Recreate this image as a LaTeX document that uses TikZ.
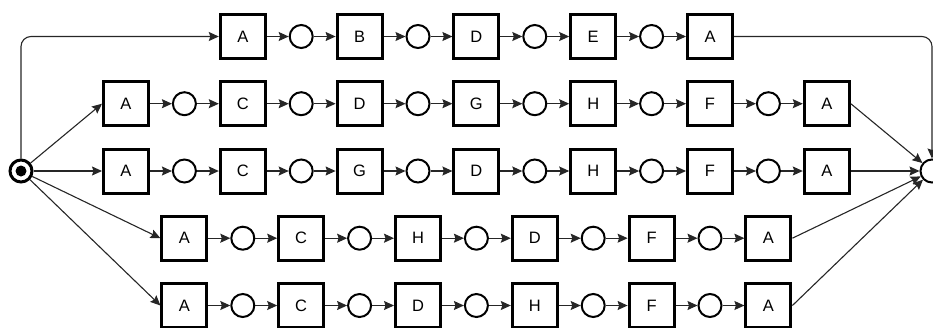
\documentclass[tikz,border=0pt]{standalone}
\usepackage{fontspec}
\setmainfont{Liberation Sans}
\usetikzlibrary{arrows.meta}
\begin{document}
\begin{tikzpicture}[x=1pt,y=-1pt,
  task/.style={draw=black,line width=3pt,minimum width=45pt,minimum height=44pt,inner sep=0pt,font=\fontsize{16.5}{16.5}\selectfont},
  place/.style={circle,draw=black,line width=2pt,minimum size=23pt,inner sep=0pt},
  startplace/.style={circle,draw=black,line width=3pt,minimum size=22pt,inner sep=0pt},
  conn/.style={draw=black!85,line width=1.1pt,-{Stealth[length=10pt,width=9pt,inset=1.5pt]}},
]
\useasboundingbox (0,0) rectangle (933,327);
\node[startplace] (s) at (21,171) {};
\fill[black] (s.center) circle (5.5pt);
\node[place] (e) at (932,171) {};
\foreach \r/\y/\xs/\labs in {1/36.5/242.8/{A,B,D,E,A},2/103.7/126/{A,C,D,G,H,F,A},3/171/126/{A,C,G,D,H,F,A},4/238.2/184.4/{A,C,H,D,F,A},5/305.5/184.4/{A,C,D,H,F,A}}{
  \foreach \l [count=\i] in \labs {
    \node[task] (r\r b\i) at ({\xs+(\i-1)*116.8},\y) {\l};
    \ifnum\i>1
      \pgfmathtruncatemacro\p{\i-1}
      \node[place] (r\r c\p) at ({\xs+(\i-1.5)*116.8},\y) {};
      \draw[conn] (r\r b\p) -- (r\r c\p);
      \draw[conn] (r\r c\p) -- (r\r b\i);
    \fi
  }
}
\draw[conn,rounded corners=10pt] (s) |- (r1b1.west);
\draw[conn] (s) -- (r2b1.west);
\draw[conn] (s) -- (r3b1);
\draw[conn] (s) -- (r4b1.west);
\draw[conn] (s) -- (r5b1.west);
\draw[conn,rounded corners=10pt] (r1b5) -| (e);
\draw[conn] (r2b7.east) -- (e);
\draw[conn] (r3b7) -- (e);
\draw[conn] (r4b6.east) -- (e);
\draw[conn] (r5b6.east) -- (e);
\end{tikzpicture}
\end{document}
